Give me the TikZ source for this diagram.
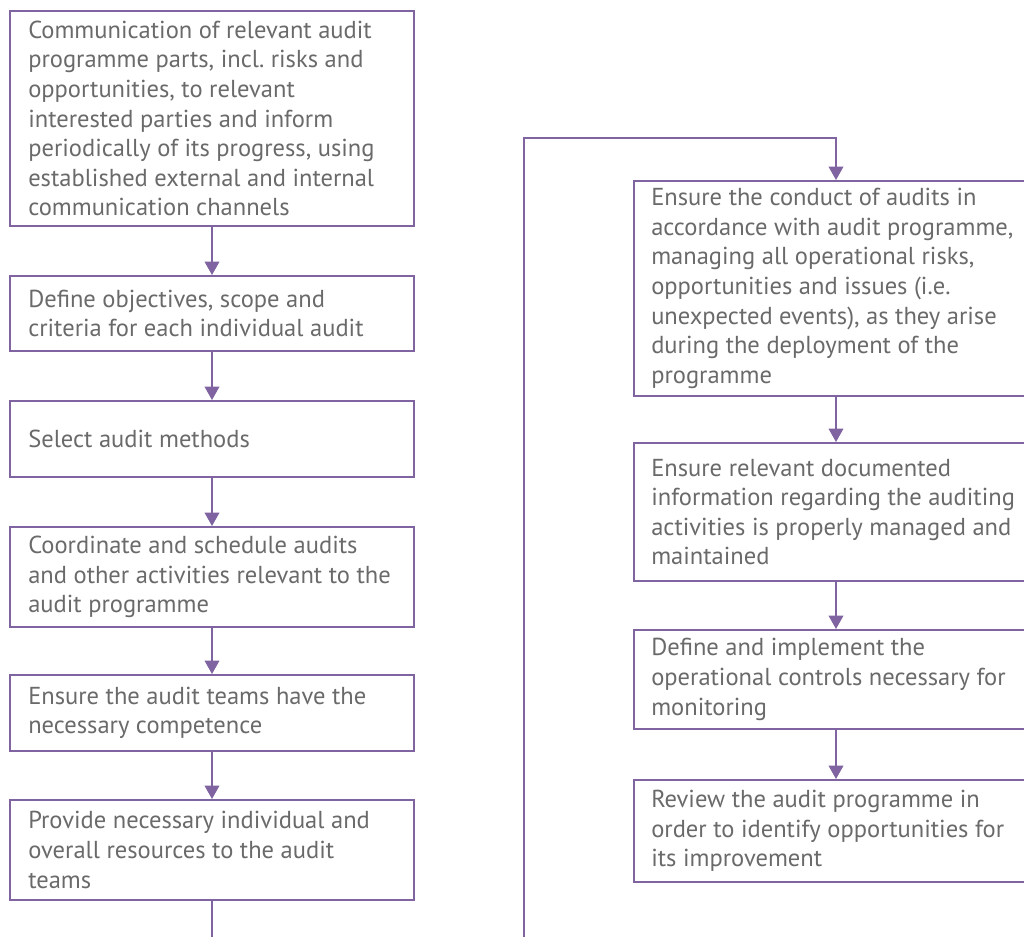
\documentclass[tikz,border=0pt]{standalone}
\usepackage{fontspec}
\setmainfont{PT Sans}
\usetikzlibrary{arrows.meta}
\definecolor{boxline}{HTML}{8064A2}
\definecolor{boxtext}{HTML}{6A6A6A}
\begin{document}
\frenchspacing
\begin{tikzpicture}[x=0.75pt,y=-0.75pt,
  stepbox/.style={draw=boxline,line width=1.5pt,fill=white,
    minimum width=303pt,inner sep=0pt},
  steptext/.style={anchor=west,inner sep=0pt,align=left,text=boxtext,
    font=\fontsize{18.4}{22.2}\selectfont},
  link/.style={draw=boxline,line width=1.1pt,
    -{Triangle[width=11pt,length=10pt]}},
  plain/.style={draw=boxline,line width=1.1pt}]
\useasboundingbox (0,0) rectangle (1024,937);
\clip (0,0) rectangle (1024,937);

% left column: frames, then their texts
\node[stepbox,minimum height=161.25pt] (b1) at (212,118.5) {};
\node[stepbox,minimum height=56.25pt] (b2) at (212,313.5) {};
\node[stepbox,minimum height=57pt] (b3) at (212,439) {};
\node[stepbox,minimum height=75pt] (b4) at (212,577) {};
\node[stepbox,minimum height=57pt] (b5) at (212,713) {};
\node[stepbox,minimum height=75pt] (b6) at (212,850) {};

\node[steptext] (t1) at ([xshift=14.25pt]b1.west)
  {Communication of relevant audit\\programme parts, incl. risks and\\opportunities, to relevant\\interested parties and inform\\periodically of its progress, using\\established external and internal\\communication channels};
\node[steptext] (t2) at ([xshift=14.25pt]b2.west)
  {Define objectives, scope and\\criteria for each individual audit};
\node[steptext] (t3) at ([xshift=14.25pt]b3.west)
  {Select audit methods};
\node[steptext] (t4) at ([xshift=14.25pt]b4.west)
  {Coordinate and schedule audits\\and other activities relevant to the\\audit programme};
\node[steptext] (t5) at ([xshift=14.25pt]b5.west)
  {Ensure the audit teams have the\\necessary competence};
\node[steptext] (t6) at ([xshift=14.25pt]b6.west)
  {Provide necessary individual and\\overall resources to the audit\\teams};

% right column: frames, then their texts
\node[stepbox,minimum height=161.25pt] (r1) at (836,288.5) {};
\node[stepbox,minimum height=103.5pt] (r2) at (836,512) {};
\node[stepbox,minimum height=74.25pt] (r3) at (836,679.5) {};
\node[stepbox,minimum height=76.5pt] (r4) at (836,831) {};

\node[steptext] (s1) at ([xshift=13.5pt]r1.west)
  {Ensure the conduct of audits in\\accordance with audit programme,\\managing all operational risks,\\opportunities and issues (i.e.\\unexpected events), as they arise\\during the deployment of the\\programme};
\node[steptext] (s2) at ([xshift=13.5pt]r2.west)
  {Ensure relevant documented\\information regarding the auditing\\activities is properly managed and\\maintained};
\node[steptext] (s3) at ([xshift=13.5pt]r3.west)
  {Define and implement the\\operational controls necessary for\\monitoring};
\node[steptext] (s4) at ([xshift=13.5pt]r4.west)
  {Review the audit programme in\\order to identify opportunities for\\its improvement};

% connectors
\draw[link] (b1) -- (b2);
\draw[link] (b2) -- (b3);
\draw[link] (b3) -- (b4);
\draw[link] (b4) -- (b5);
\draw[link] (b5) -- (b6);
\coordinate (leftend) at (212,945);
\draw[plain] (b6.south) -- (leftend);

\coordinate (loopstart) at (524,945);
\coordinate (loopturn) at (524,138);
\draw[link] (loopstart) -- (loopturn) -| (r1.north);
\draw[link] (r1) -- (r2);
\draw[link] (r2) -- (r3);
\draw[link] (r3) -- (r4);
\end{tikzpicture}
\end{document}
